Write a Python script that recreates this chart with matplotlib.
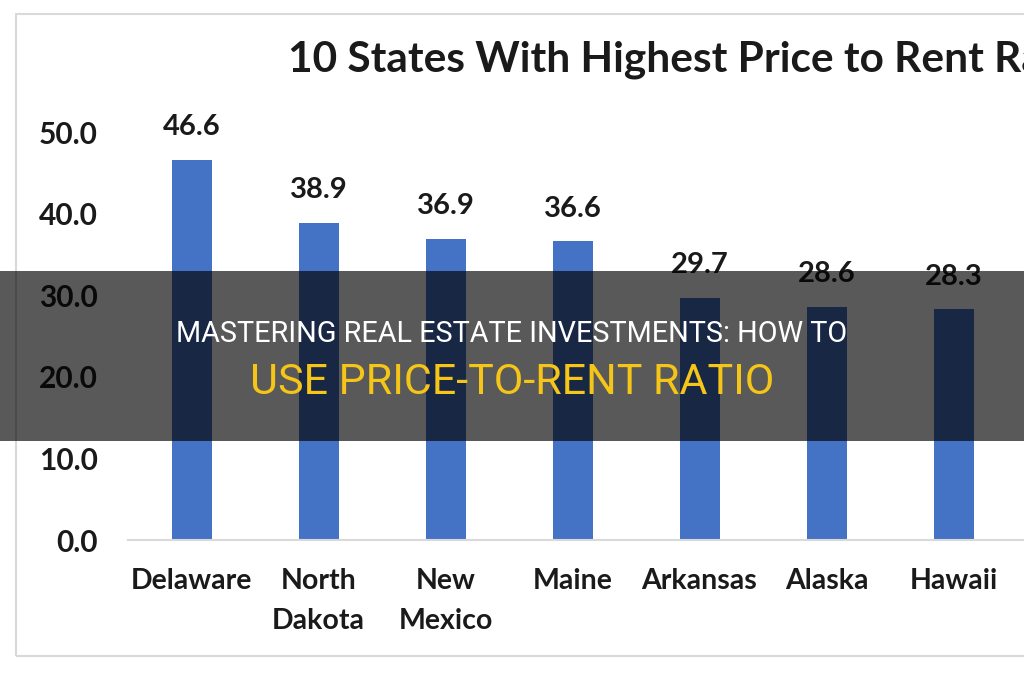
import matplotlib.pyplot as plt
from matplotlib.patches import Rectangle

# Donnees du graphique (8e etat coupe par le bord droit)
states = ["Delaware", "North\nDakota", "New\nMexico", "Maine", "Arkansas",
          "Alaska", "Hawaii", "Montana"]
ratios = [46.6, 38.9, 36.9, 36.6, 29.7, 28.6, 28.3, 27.8]
yticks = [0, 10, 20, 30, 40, 50]

title = "10 States With Highest Price to Rent Ratio"
banner_line1 = "MASTERING REAL ESTATE INVESTMENTS: HOW TO"
banner_line2 = "USE PRICE-TO-RENT RATIO"

W, H = 1024, 680
fig = plt.figure(figsize=(W / 100, H / 100), dpi=100)
fig.patch.set_facecolor("white")
chart_font = ["Lato", "DejaVu Sans"]

# cadre du graphique Excel
fig.add_artist(Rectangle((16 / W, 1 - 656 / H), 1.2, (656 - 14) / H,
                         transform=fig.transFigure, fill=False,
                         edgecolor="#d9d9d9", linewidth=1.5))

slot = 127  # largeur d'une categorie en pixels
n = len(states)
ax = fig.add_axes([128 / W, 1 - 540 / H, n * slot / W, (540 - 132) / H])
x = list(range(n))
bars = ax.bar(x, ratios, width=40 / slot, color="#4472c4", zorder=2)
ax.set_xlim(-0.5, n - 0.5)
ax.set_ylim(0, 50)

for xi, v in zip(x, ratios):
    ax.annotate(f"{v:.1f}", (xi, v), xytext=(0, 14), textcoords="offset points",
                ha="center", va="bottom", fontsize=21, fontweight="bold",
                family=chart_font, color="#1a1a1a", annotation_clip=False)

ax.set_yticks(yticks)
ax.set_yticklabels([f"{t:.1f}" for t in yticks], fontsize=21.5, fontweight="bold",
                   family=chart_font, color="#1a1a1a")
ax.set_xticks(x)
ax.set_xticklabels(states, fontsize=20.5, fontweight="bold", family=chart_font,
                   color="#1a1a1a", linespacing=1.7)
ax.tick_params(axis="y", length=0, pad=22)
ax.tick_params(axis="x", length=0, pad=20)
for s in ["top", "right", "left"]:
    ax.spines[s].set_visible(False)
ax.spines["bottom"].set_color("#d9d9d9")
ax.spines["bottom"].set_linewidth(1.5)

fig.text(288 / W, 1 - 60 / H, title, ha="left", va="center", fontsize=30.5,
         fontweight="bold", family=chart_font, color="#1a1a1a")

# bandeau sombre par-dessus
fig.add_artist(Rectangle((0, 1 - 441 / H), 1, (441 - 271) / H,
                         transform=fig.transFigure, facecolor="black",
                         alpha=0.65, edgecolor="none", zorder=10))
fig.text(0.5, 1 - 334 / H, banner_line1, ha="center", va="center", fontsize=20.8,
         family=["Roboto", "DejaVu Sans"], color="white", zorder=11)
fig.text(0.5, 1 - 383 / H, banner_line2, ha="center", va="center", fontsize=31,
         family=["Roboto", "DejaVu Sans"], color="#f5c518", zorder=11)

fig.savefig("out.png", dpi=100)
